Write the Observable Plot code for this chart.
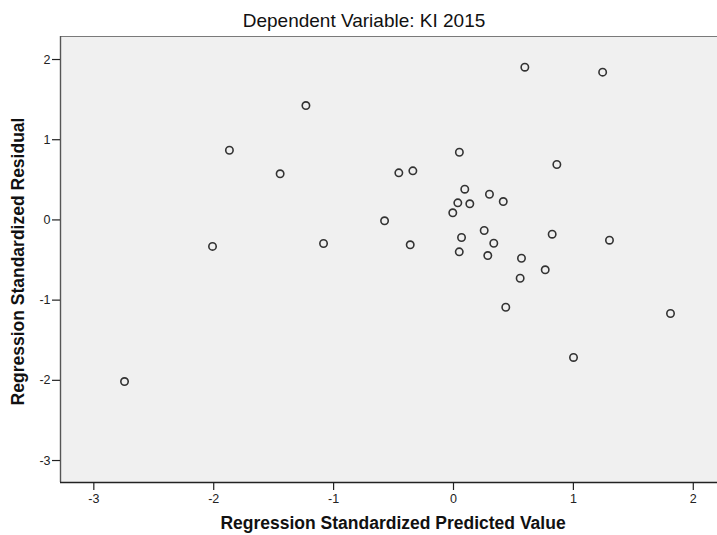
<!DOCTYPE html>
<html>
<head>
<meta charset="utf-8">
<script src="https://cdn.jsdelivr.net/npm/d3@7"></script>
<script src="https://cdn.jsdelivr.net/npm/@observablehq/plot@0.6"></script>
<style>
  html, body { margin: 0; padding: 0; background: #fff; }
</style>
</head>
<body>
<div id="chart"></div>
<script>
// Residuals against predicted values (both standardized), one point per case
const predicted = [
  -2.744, -2.010, -1.869, -1.446, -1.231, -1.084, -0.575, -0.456, -0.339, -0.361,
  -0.006, 0.049, 0.036, 0.094, 0.136, 0.067, 0.048, 0.256, 0.286, 0.300,
  0.336, 0.415, 0.567, 0.556, 0.436, 0.595, 0.862, 0.823, 0.765, 1.244,
  1.301, 1.001, 1.810
];
const residual = [
  -2.015, -0.330, 0.869, 0.575, 1.426, -0.294, -0.011, 0.587, 0.612, -0.310,
  0.089, 0.844, 0.213, 0.383, 0.201, -0.219, -0.398, -0.132, -0.444, 0.320,
  -0.291, 0.229, -0.478, -0.727, -1.089, 1.904, 0.691, -0.178, -0.622, 1.842,
  -0.253, -1.715, -1.167
];
const xTicks = [-3, -2, -1, 0, 1, 2];
const yTicks = [-3, -2, -1, 0, 1, 2];

const xDomain = [-3.278, 2.202];
const yDomain = [-3.274, 2.287];

const points = predicted.map((p, i) => ({predicted: p, residual: residual[i]}));

const font = "'Liberation Sans', Arial, sans-serif";
// plain hyphen for negative tick labels
const tickFmt = d => String(d);

const chart = Plot.plot({
  width: 717,
  height: 535,
  marginLeft: 60,
  marginRight: 0,
  marginTop: 36,
  marginBottom: 53,
  style: {background: "#ffffff", fontFamily: font, fontSize: "12.5px", color: "#222"},
  x: {domain: xDomain},
  y: {domain: yDomain},
  marks: [
    // plot background
    Plot.frame({fill: "#f0f0f0", stroke: null}),
    // borders: top, bottom and left
    Plot.ruleY([yDomain[1]], {stroke: "#7a7a7a", strokeWidth: 1.2}),
    Plot.ruleX([xDomain[0]], {stroke: "#555", strokeWidth: 1.4}),
    Plot.ruleY([yDomain[0]], {stroke: "#222", strokeWidth: 1.4}),
    Plot.axisX({ticks: xTicks, tickSize: 8, tickPadding: 4, tickFormat: tickFmt, label: null, color: "#222", strokeWidth: 1.2}),
    Plot.axisY({ticks: yTicks, tickSize: 8, tickPadding: 2, tickFormat: tickFmt, label: null, color: "#222", strokeWidth: 1.2}),
    Plot.dot(points, {x: "predicted", y: "residual", r: 3.7, stroke: "#333", strokeWidth: 1.6, fill: "none"}),
    // chart title
    Plot.text(["Dependent Variable: KI 2015"], {
      frameAnchor: "top", textAnchor: "middle", lineAnchor: "middle", dx: -25, dy: -16,
      fontSize: 19, fill: "#111", fontFamily: font
    }),
    // axis titles
    Plot.text(["Regression Standardized Predicted Value"], {
      frameAnchor: "bottom", textAnchor: "middle", lineAnchor: "middle", dx: 4, dy: 41,
      fontSize: 17.5, fontWeight: "bold", fill: "#111", fontFamily: font
    }),
    Plot.text(["Regression Standardized Residual"], {
      frameAnchor: "left", textAnchor: "middle", lineAnchor: "middle", rotate: -90, dx: -42, dy: 2,
      fontSize: 17.5, fontWeight: "bold", fill: "#111", fontFamily: font
    })
  ]
});

document.getElementById("chart").appendChild(chart);
</script>
</body>
</html>
